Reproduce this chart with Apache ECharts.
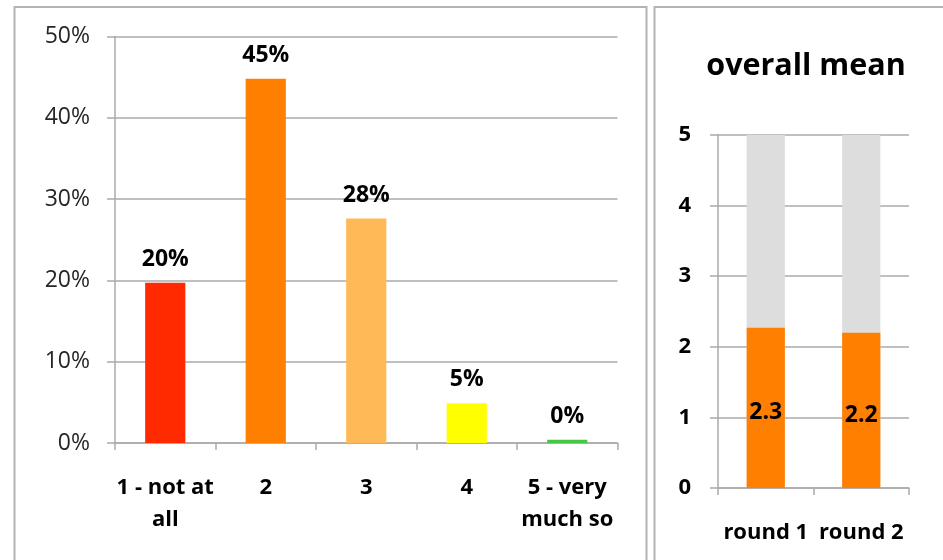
<!DOCTYPE html>
<html>
<head>
<meta charset="utf-8">
<script src="https://cdn.jsdelivr.net/npm/echarts@6/dist/echarts.min.js"></script>
<style>
html,body{margin:0;padding:0;background:#fff;}
#c{width:943px;height:560px;}
</style>
</head>
<body>
<div id="c"></div>
<script>
// ---- data ----
var categories = ['1 - not at\nall', '2', '3', '4', '5 - very\nmuch so'];
var shareValues = [19.7, 44.8, 27.6, 4.9, 0.4];
var barColors = ['#FF2A00', '#FF7F00', '#FFB957', '#FFFF00', '#44C744'];
var yTicksLeft = [0, 10, 20, 30, 40, 50];

var rounds = ['round 1', 'round 2'];
var meanValues = [2.27, 2.2];
var scaleMaxValues = [5, 5];
var meanTitle = 'overall mean';

var FONT = '"Open Sans", "DejaVu Sans", sans-serif';
var gridColor = '#ababab';

var chart = echarts.init(document.getElementById('c'), null, {renderer: 'canvas'});
chart.setOption({
  animation: false,
  backgroundColor: '#fff',
  title: {
    text: meanTitle,
    left: 801, top: 46, textAlign: 'center',
    textStyle: {fontFamily: FONT, fontSize: 30.5, fontWeight: 'bold', color: '#000'}
  },
  graphic: [
    {type: 'rect', silent: true, z: -1, shape: {x: 14.5, y: 7, width: 632, height: 600},
     style: {fill: 'none', stroke: '#b3b3b3', lineWidth: 2}},
    {type: 'rect', silent: true, z: -1, shape: {x: 654.5, y: 7, width: 400, height: 600},
     style: {fill: 'none', stroke: '#b3b3b3', lineWidth: 2}}
  ],
  grid: [
    {left: 115, right: 325.5, top: 36.5, bottom: 117},
    {left: 718, right: 34, top: 135, bottom: 72}
  ],
  xAxis: [
    {
      type: 'category', gridIndex: 0, data: categories,
      axisLine: {lineStyle: {color: gridColor, width: 1.5}},
      axisTick: {show: true, length: 7, alignWithLabel: false, lineStyle: {color: gridColor, width: 1.5}},
      axisLabel: {fontFamily: FONT, fontSize: 22, fontWeight: 'bold', color: '#000', lineHeight: 32, margin: 29, interval: 0}
    },
    {
      type: 'category', gridIndex: 1, data: rounds,
      axisLine: {lineStyle: {color: gridColor, width: 1.5}},
      axisTick: {show: true, length: 7, lineStyle: {color: gridColor, width: 1.5}},
      axisLabel: {fontFamily: FONT, fontSize: 22, fontWeight: 'bold', color: '#000', margin: 34, interval: 0}
    }
  ],
  yAxis: [
    {
      type: 'value', gridIndex: 0, min: 0, max: 50, interval: 10,
      axisLine: {show: true, lineStyle: {color: gridColor, width: 1.5}},
      axisTick: {show: true, length: 8, lineStyle: {color: gridColor, width: 1.5}},
      splitLine: {lineStyle: {color: gridColor, width: 1.5}},
      axisLabel: {fontFamily: FONT, fontSize: 23, color: '#262626', margin: 25,
        formatter: function (v) { return yTicksLeft.indexOf(v) >= 0 ? v + '%' : ''; }}
    },
    {
      type: 'value', gridIndex: 1, min: 0, max: 5, interval: 1,
      axisLine: {show: true, lineStyle: {color: gridColor, width: 1.5}},
      axisTick: {show: true, length: 8, lineStyle: {color: gridColor, width: 1.5}},
      splitLine: {lineStyle: {color: gridColor, width: 1.5}},
      axisLabel: {fontFamily: FONT, fontSize: 22, fontWeight: 'bold', color: '#000', margin: 27}
    }
  ],
  series: [
    {
      type: 'bar', xAxisIndex: 0, yAxisIndex: 0, barWidth: '40%',
      data: shareValues.map(function (v, i) { return {value: v, itemStyle: {color: barColors[i]}}; }),
      label: {show: true, position: 'top', distance: 12, fontFamily: FONT, fontSize: 23, fontWeight: 'bold', color: '#000',
        formatter: function (p) { return Math.round(p.value) + '%'; }}
    },
    {
      type: 'bar', xAxisIndex: 1, yAxisIndex: 1, barWidth: '40%', barGap: '-100%',
      data: scaleMaxValues, itemStyle: {color: '#DDDDDD'}, silent: true
    },
    {
      type: 'bar', xAxisIndex: 1, yAxisIndex: 1, barWidth: '40%',
      data: meanValues, itemStyle: {color: '#FF7F00'},
      label: {show: true, position: 'inside', offset: [0, 5], fontFamily: FONT, fontSize: 23, fontWeight: 'bold', color: '#000',
        formatter: function (p) { return p.value.toFixed(1); }}
    }
  ]
});
</script>
</body>
</html>
